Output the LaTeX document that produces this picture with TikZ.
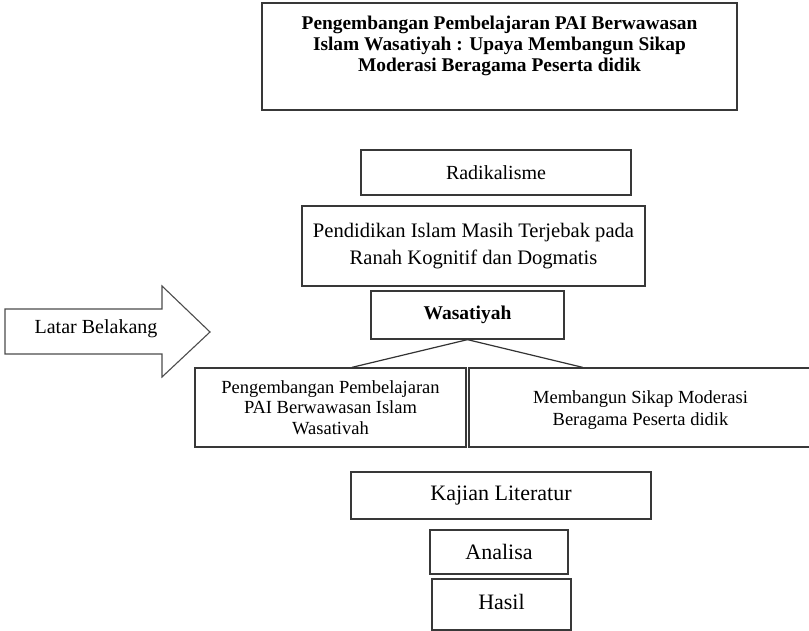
\documentclass[tikz,border=0pt]{standalone}
\usepackage{fontspec}
\setmainfont{Liberation Serif}
\usetikzlibrary{calc}
\begin{document}
\begin{tikzpicture}[x=1pt,y=-1pt,
  box/.style={draw=black!78, line width=1.3pt, rectangle, inner sep=0pt, align=center, fill=white},
  big/.style={font=\fontsize{22}{27}\selectfont},
  mid/.style={font=\fontsize{20}{24}\selectfont},
  conn/.style={draw=black!80, line width=1.2pt}]
\clip (0,0) rectangle (809,631);
\fill[white] (0,0) rectangle (809,631);

\node[box, minimum width=475pt, minimum height=107pt,
  label={[anchor=north, yshift=-13pt, inner sep=0pt, align=center,
          font=\fontsize{19.4}{21.3}\selectfont\bfseries]north:{Pengembangan Pembelajaran PAI Berwawasan\\Islam Wasatiyah : Upaya Membangun Sikap\\Moderasi Beragama Peserta didik}}]
  (title) at (499.5,56.5) {};

\node[box, mid, minimum width=270pt, minimum height=45pt] (radik) at (496,172.5) {Radikalisme};
\node[box, minimum width=343pt, minimum height=80pt, font=\fontsize{20.6}{27}\selectfont] (pend) at (473.5,246) {Pendidikan Islam Masih Terjebak pada\\Ranah Kognitif dan Dogmatis};
\node[box, minimum width=193pt, minimum height=48pt, font=\fontsize{19.5}{23}\selectfont\bfseries] (was) at (467.5,315) {Wasatiyah};
\node[box, minimum width=271pt, minimum height=79pt, font=\fontsize{18.5}{20.5}\selectfont] (left) at (330.5,407.5) {Pengembangan Pembelajaran\\PAI Berwawasan Islam\\Wasativah};
\node[box, minimum width=343pt, minimum height=79pt, font=\fontsize{18.5}{22}\selectfont] (right) at (640.5,407.5) {\rule{0pt}{18pt}Membangun Sikap Moderasi\\Beragama Peserta didik};
\node[box, big, minimum width=300pt, minimum height=47pt] (kaj) at (501,495.5) {Kajian Literatur};
\node[box, big, minimum width=138pt, minimum height=44pt] (ana) at (499,552) {Analisa};
\node[box, big, minimum width=139pt, minimum height=51pt] (has) at (501.5,604.5) {Hasil\vphantom{g}};

% arrow "Latar Belakang"
\draw[draw=black!70, line width=1.1pt]
  (5,309) -- (162,309) -- (162,286) -- (210,332) -- (162,377) -- (162,354) -- (5,354) -- cycle;
\node[mid, inner sep=0pt] (latar) at (96,329) {Latar Belakang};

\draw[conn] (was.south) -- ($(left.north west)!0.579!(left.north east)$);
\draw[conn] (was.south) -- ($(right.north west)!0.332!(right.north east)$);
\end{tikzpicture}
\end{document}
